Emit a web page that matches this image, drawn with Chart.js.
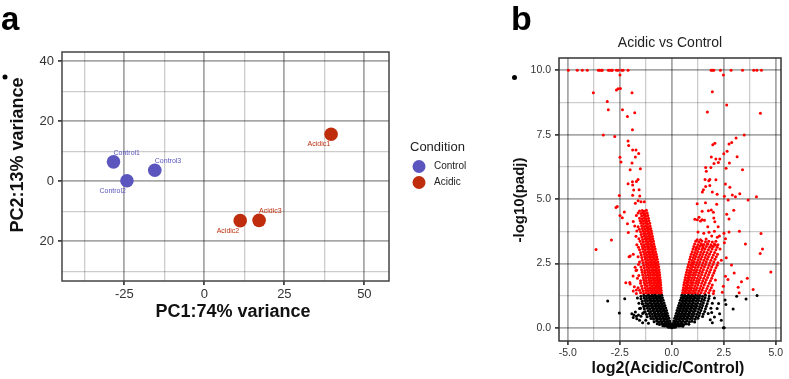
<!DOCTYPE html>
<html>
<head>
<meta charset="utf-8">
<title>PCA and volcano plot</title>
<script src="https://cdn.jsdelivr.net/npm/chart.js"></script>
<style>
  body { margin: 0; background: #fff; }
  #wrap { position: relative; width: 789px; height: 379px; }
  #pca { position: absolute; left: 0; top: 0; }
  #volcano { position: absolute; left: 480px; top: 0; }
</style>
</head>
<body>
<div id="wrap">
  <canvas id="pca" width="480" height="379"></canvas>
  <canvas id="volcano" width="309" height="379"></canvas>
</div>
<script>
// ---- panel a: PCA ----
var sampleNames = ['Control1', 'Control2', 'Control3', 'Acidic1', 'Acidic2', 'Acidic3'];
var sampleCondition = ['Control', 'Control', 'Control', 'Acidic', 'Acidic', 'Acidic'];
var pc1 = [-28.4, -24.2, -15.5, 39.6, 11.2, 17.1];
var pc2 = [6.5, 0.2, 3.7, 15.7, -13.1, -13.0];
var conditions = ['Control', 'Acidic'];

var pcaXGrid = [-37.5, -25, -12.5, 0, 12.5, 25, 37.5, 50];
var pcaXMajor = [-25, 0, 25, 50];
var pcaXLabels = ['-25', '0', '25', '50'];
var pcaYGrid = [-30, -20, -10, 0, 10, 20, 30, 40];
var pcaYMajor = [-20, 0, 20, 40];
var pcaYLabels = ['20', '0', '20', '40'];

// ---- panel b: volcano ----
var volX = [-5, -3.75, -2.5, -1.25, 0, 1.25, 2.5, 3.75, 5];
var volXMajor = [-5, -2.5, 0, 2.5, 5];
var volXLabels = ['-5.0', '-2.5', '0.0', '2.5', '5.0'];
var volY = [0, 1.25, 2.5, 3.75, 5, 6.25, 7.5, 8.75, 10];
var volYMajor = [0, 2.5, 5, 7.5, 10];
var volYLabels = ['0.0', '2.5', '5.0', '7.5', '10.0'];

// significant, lower in Acidic
var downSig = [
  [-4.97,10],[-4.54,10],[-4.30,10],[-4.06,10],[-3.53,10],[-3.46,10],[-3.38,10],[-3.34,10],[-3.05,10],[-2.98,10],[-2.90,10],[-2.86,10],[-2.66,10],[-2.58,10],[-2.40,10],[-2.34,10],[-2.10,10],
  [-2.49,9.82],[-2.66,9.24],[-2.58,9.29],[-2.47,9.30],[-3.77,9.13],[-1.91,9.13],[-3.10,8.79],[-3.05,8.47],[-2.37,8.47],[-1.78,8.35],[-2.13,8.21],[-1.89,7.69],[-3.29,7.49],[-2.74,7.43],[-2.10,7.26],[-2.07,7.08],[-1.88,6.91],[-1.72,6.91],[-1.59,6.77],[-1.75,6.64],[-2.49,6.63],
  [-2.44,6.44],[-1.91,6.40],[-1.51,6.18],[-2.00,6.14],[-1.62,5.76],[-1.70,5.68],[-1.89,5.67],[-2.10,5.60],[-1.88,5.55],[-1.57,5.36],[-1.83,5.35],[-1.54,5.12],[-1.88,5.15],[-2.52,5.14],[-1.62,4.94],[-1.48,4.90],[-1.75,4.84],[-1.32,4.90],[-2.68,4.67],[-2.62,4.71],[-2.28,4.50],[-2.49,4.36],[-2.38,4.28],[-2.13,4.04],[-2.09,3.70],[-2.90,3.41],[-3.64,3.04],
  [-2.21,1.75],[-2.00,2.79],[-2.05,2.76],[-1.76,2.35],[-1.68,2.25],[-1.86,2.01],[-1.80,1.60],[-1.70,1.47],[-2.00,1.70],
  [-1.22,4.57],[-1.32,4.53],[-1.42,4.56],[-1.55,4.54],
  [-1.18,4.46],[-1.28,4.43],[-1.38,4.47],[-1.48,4.44],[-1.62,4.46],
  [-1.15,4.36],[-1.25,4.33],[-1.35,4.37],[-1.45,4.34],[-1.70,4.36],
  [-1.12,4.26],[-1.22,4.23],[-1.32,4.27],[-1.42,4.24],[-1.55,4.26],
  [-1.10,4.16],[-1.20,4.13],[-1.30,4.17],[-1.40,4.14],[-1.52,4.16],[-1.85,4.13],
  [-1.06,4.06],[-1.16,4.03],[-1.26,4.07],[-1.36,4.04],[-1.48,4.06],
  [-1.04,3.96],[-1.13,3.93],[-1.23,3.97],[-1.33,3.94],[-1.45,3.96],[-1.62,3.93],[-1.78,3.96],
  [-1.01,3.86],[-1.10,3.83],[-1.20,3.87],[-1.30,3.84],[-1.42,3.86],[-1.56,3.83],
  [-0.98,3.76],[-1.07,3.73],[-1.17,3.77],[-1.27,3.74],[-1.38,3.76],[-1.50,3.73],[-1.68,3.76],
  [-0.96,3.66],[-1.05,3.63],[-1.14,3.67],[-1.24,3.64],[-1.35,3.66],[-1.47,3.63],
  [-0.93,3.56],[-1.02,3.53],[-1.11,3.57],[-1.21,3.54],[-1.32,3.56],[-1.44,3.53],[-1.72,3.56],
  [-0.91,3.46],[-1.00,3.43],[-1.09,3.47],[-1.18,3.44],[-1.28,3.46],[-1.40,3.43],[-1.58,3.46],
  [-0.88,3.36],[-0.97,3.33],[-1.06,3.37],[-1.15,3.34],[-1.25,3.36],[-1.37,3.33],[-1.52,3.36],
  [-0.86,3.26],[-0.95,3.23],[-1.04,3.27],[-1.13,3.24],[-1.22,3.26],[-1.33,3.23],[-1.46,3.26],[-1.68,3.23],
  [-0.83,3.16],[-0.92,3.13],[-1.01,3.17],[-1.10,3.14],[-1.19,3.16],[-1.30,3.13],[-1.42,3.16],[-1.60,3.13],
  [-0.80,3.06],[-0.89,3.03],[-0.98,3.07],[-1.07,3.04],[-1.16,3.06],[-1.27,3.03],[-1.40,3.06],[-1.55,3.03],
  [-0.78,2.96],[-0.87,2.93],[-0.96,2.97],[-1.05,2.94],[-1.14,2.96],[-1.24,2.93],[-1.36,2.96],[-1.50,2.93],
  [-0.75,2.86],[-0.84,2.83],[-0.93,2.87],[-1.02,2.84],[-1.11,2.86],[-1.21,2.83],[-1.33,2.86],[-1.47,2.83],[-1.85,2.86],
  [-0.72,2.76],[-0.81,2.73],[-0.90,2.77],[-0.99,2.74],[-1.08,2.76],[-1.18,2.73],[-1.30,2.76],[-1.44,2.73],[-1.62,2.76],
  [-0.70,2.66],[-0.79,2.63],[-0.88,2.67],[-0.97,2.64],[-1.06,2.66],[-1.16,2.63],[-1.28,2.66],[-1.42,2.63],
  [-0.67,2.56],[-0.76,2.53],[-0.85,2.57],[-0.94,2.54],[-1.03,2.56],[-1.13,2.53],[-1.25,2.56],[-1.38,2.53],[-1.55,2.56],
  [-0.65,2.46],[-0.74,2.43],[-0.83,2.47],[-0.92,2.44],[-1.01,2.46],[-1.11,2.43],[-1.22,2.46],[-1.35,2.43],[-1.60,2.46],
  [-0.63,2.36],[-0.72,2.33],[-0.81,2.37],[-0.90,2.34],[-0.99,2.36],[-1.09,2.33],[-1.20,2.36],[-1.32,2.33],[-1.48,2.36],
  [-0.61,2.26],[-0.70,2.23],[-0.79,2.27],[-0.88,2.24],[-0.97,2.26],[-1.07,2.23],[-1.18,2.26],[-1.30,2.23],[-1.45,2.26],[-1.72,2.23],
  [-0.60,2.16],[-0.68,2.13],[-0.77,2.17],[-0.86,2.14],[-0.95,2.16],[-1.05,2.13],[-1.16,2.16],[-1.28,2.13],[-1.42,2.16],
  [-0.58,2.06],[-0.66,2.03],[-0.75,2.07],[-0.84,2.04],[-0.93,2.06],[-1.03,2.03],[-1.14,2.06],[-1.26,2.03],[-1.40,2.06],[-1.58,2.03],
  [-0.57,1.96],[-0.65,1.93],[-0.73,1.97],[-0.82,1.94],[-0.91,1.96],[-1.01,1.93],[-1.12,1.96],[-1.24,1.93],[-1.37,1.96],[-1.65,1.93],
  [-0.55,1.86],[-0.63,1.83],[-0.71,1.87],[-0.80,1.84],[-0.89,1.86],[-0.99,1.83],[-1.10,1.86],[-1.22,1.83],[-1.35,1.86],[-1.50,1.83],
  [-0.54,1.76],[-0.62,1.73],[-0.70,1.77],[-0.78,1.74],[-0.87,1.76],[-0.97,1.73],[-1.08,1.76],[-1.20,1.73],[-1.33,1.76],[-1.50,1.73],[-2.02,1.76],
  [-0.53,1.66],[-0.61,1.63],[-0.69,1.67],[-0.77,1.64],[-0.86,1.66],[-0.95,1.63],[-1.06,1.66],[-1.18,1.63],[-1.30,1.66],[-1.45,1.63],
  [-0.52,1.56],[-0.60,1.53],[-0.68,1.57],[-0.76,1.54],[-0.85,1.56],[-0.94,1.53],[-1.04,1.56],[-1.15,1.53],[-1.28,1.56],[-1.42,1.53],[-1.62,1.56],
  [-0.51,1.46],[-0.59,1.43],[-0.67,1.47],[-0.75,1.44],[-0.84,1.46],[-0.93,1.43],[-1.03,1.46],[-1.13,1.43],[-1.25,1.46],[-1.38,1.43],[-1.55,1.46],[-1.85,1.43],
  [-0.50,1.36],[-0.58,1.33],[-0.66,1.37],[-0.74,1.34],[-0.83,1.36],[-0.92,1.33],[-1.02,1.36],[-1.12,1.33],[-1.23,1.36],[-1.35,1.33],[-1.50,1.36],[-1.70,1.33]
];

// significant, higher in Acidic
var upSig = [
  [1.89,10],[1.95,10],[2.02,10],[2.34,10],[2.85,10],[3.40,10],[3.94,10],[4.09,10],[4.31,10],
  [2.48,9.82],[1.95,9.17],[2.64,8.65],[1.71,8.38],[4.26,8.33],[3.48,7.49],[3.09,7.37],[2.88,7.20],[2.75,7.14],[2.07,7.17],[1.97,7.11],[2.66,6.86],[2.50,6.76],[1.90,6.64],[3.14,6.65],
  [2.12,6.56],[2.31,6.56],[2.03,6.38],[2.24,6.42],[2.77,6.40],[1.63,6.23],[1.88,6.23],[1.66,6.08],[2.61,6.20],[3.40,6.14],[1.60,5.76],[1.78,5.71],[1.83,5.76],[2.12,5.75],[1.63,5.49],[1.83,5.53],[2.58,5.59],[2.79,5.46],[1.52,5.36],[1.47,5.28],[1.95,5.28],[2.18,5.19],[2.91,5.16],[3.27,5.21],[3.06,5.09],[2.53,5.11],[2.71,4.97],[3.67,4.97],[4.07,5.09],
  [1.22,4.82],[1.62,4.86],[2.16,4.80],[1.90,4.58],[2.00,4.49],[1.76,4.55],[2.64,4.41],[2.98,4.57],[1.46,4.53],[1.31,4.30],[1.46,4.20],[1.38,4.15],[1.23,4.20],[1.57,4.18],[1.11,4.22],[2.02,4.27],[2.07,4.12],[2.23,3.93],[2.75,4.23],[1.73,3.93],
  [1.26,3.72],[1.54,3.67],[1.79,3.71],[2.05,3.75],[2.51,3.67],[2.75,3.72],[3.25,3.75],[4.29,3.66],[1.92,3.57],[2.19,3.52],[2.29,3.57],[2.58,3.46],[1.65,3.45],[1.38,3.42],[1.22,3.42],[1.46,3.23],[1.73,3.26],[1.94,3.17],[2.10,3.22],[1.50,3.11],[1.17,3.10],[3.54,3.26],[4.36,3.06],
  [2.53,3.31],[4.25,2.89],[4.76,2.17],[2.87,2.44],[3.00,2.13],[2.58,2.00],[3.63,1.93],[3.35,1.79],[3.91,1.49],[3.19,1.58],[3.24,1.36],[2.43,1.38],[2.62,2.72],[2.48,1.62],[2.70,1.88],
  [1.15,3.36],[1.30,3.33],[1.45,3.37],[1.62,3.34],[1.78,3.36],[1.95,3.33],[2.12,3.36],
  [1.10,3.26],[1.25,3.23],[1.40,3.27],[1.55,3.24],[1.72,3.26],[1.88,3.23],[2.05,3.26],[2.22,3.23],
  [1.06,3.16],[1.20,3.13],[1.35,3.17],[1.50,3.14],[1.66,3.16],[1.82,3.13],[2.00,3.16],[2.18,3.13],
  [1.02,3.06],[1.15,3.03],[1.30,3.07],[1.45,3.04],[1.60,3.06],[1.76,3.03],[1.94,3.06],[2.12,3.03],[2.32,3.06],
  [0.98,2.96],[1.11,2.93],[1.25,2.97],[1.40,2.94],[1.55,2.96],[1.70,2.93],[1.88,2.96],[2.06,2.93],
  [0.94,2.86],[1.07,2.83],[1.20,2.87],[1.35,2.84],[1.50,2.86],[1.65,2.83],[1.82,2.86],[2.00,2.83],[2.20,2.86],
  [0.90,2.76],[1.03,2.73],[1.16,2.77],[1.30,2.74],[1.45,2.76],[1.60,2.73],[1.76,2.76],[1.94,2.73],[2.14,2.76],
  [0.87,2.66],[0.99,2.63],[1.12,2.67],[1.26,2.64],[1.40,2.66],[1.55,2.63],[1.71,2.66],[1.88,2.63],[2.08,2.66],[2.38,2.63],
  [0.84,2.56],[0.96,2.53],[1.08,2.57],[1.21,2.54],[1.35,2.56],[1.50,2.53],[1.66,2.56],[1.83,2.53],[2.02,2.56],[2.22,2.53],
  [0.80,2.46],[0.92,2.43],[1.04,2.47],[1.17,2.44],[1.31,2.46],[1.46,2.43],[1.62,2.46],[1.79,2.43],[1.98,2.46],[2.18,2.43],
  [0.77,2.36],[0.89,2.33],[1.01,2.37],[1.13,2.34],[1.27,2.36],[1.41,2.33],[1.57,2.36],[1.74,2.33],[1.92,2.36],[2.12,2.33],
  [0.74,2.26],[0.85,2.23],[0.97,2.27],[1.09,2.24],[1.22,2.26],[1.36,2.23],[1.52,2.26],[1.69,2.23],[1.87,2.26],[2.06,2.23],
  [0.71,2.16],[0.82,2.13],[0.93,2.17],[1.05,2.14],[1.18,2.16],[1.32,2.13],[1.47,2.16],[1.64,2.13],[1.82,2.16],[2.02,2.13],
  [0.68,2.06],[0.79,2.03],[0.90,2.07],[1.01,2.04],[1.14,2.06],[1.28,2.03],[1.43,2.06],[1.59,2.03],[1.77,2.06],[1.96,2.03],
  [0.65,1.96],[0.76,1.93],[0.86,1.97],[0.97,1.94],[1.10,1.96],[1.23,1.93],[1.38,1.96],[1.54,1.93],[1.72,1.96],[1.92,1.93],
  [0.63,1.86],[0.73,1.83],[0.83,1.87],[0.94,1.84],[1.06,1.86],[1.19,1.83],[1.33,1.86],[1.49,1.83],[1.66,1.86],[1.86,1.83],[2.10,1.86],
  [0.60,1.76],[0.70,1.73],[0.80,1.77],[0.91,1.74],[1.02,1.76],[1.15,1.73],[1.29,1.76],[1.44,1.73],[1.61,1.76],[1.80,1.73],
  [0.58,1.66],[0.68,1.63],[0.77,1.67],[0.88,1.64],[0.99,1.66],[1.11,1.63],[1.25,1.66],[1.40,1.63],[1.56,1.66],[1.74,1.63],[1.95,1.66],
  [0.56,1.56],[0.65,1.53],[0.75,1.57],[0.85,1.54],[0.96,1.56],[1.08,1.53],[1.21,1.56],[1.35,1.53],[1.51,1.56],[1.69,1.53],[1.90,1.56],
  [0.54,1.46],[0.63,1.43],[0.72,1.47],[0.82,1.44],[0.93,1.46],[1.04,1.43],[1.17,1.46],[1.31,1.43],[1.46,1.46],[1.63,1.43],[1.84,1.46],[2.02,1.43],
  [0.52,1.36],[0.61,1.33],[0.70,1.37],[0.79,1.34],[0.90,1.36],[1.01,1.33],[1.13,1.36],[1.26,1.33],[1.41,1.36],[1.58,1.33],[1.78,1.36],[2.00,1.33]
];

// not significant
var notSig = [
  [-0.48,1.27],[-0.56,1.24],[-0.64,1.26],[-0.72,1.23],[-0.80,1.27],[-0.88,1.24],[-0.96,1.26],[-1.04,1.23],[-1.12,1.27],[-1.22,1.24],[-1.34,1.26],[-1.48,1.23],
  [-0.45,1.17],[-0.53,1.14],[-0.61,1.16],[-0.69,1.13],[-0.77,1.17],[-0.85,1.14],[-0.93,1.16],[-1.02,1.13],[-1.11,1.17],[-1.21,1.14],[-1.33,1.16],[-1.48,1.13],[-1.65,1.16],
  [-0.41,1.07],[-0.49,1.04],[-0.57,1.06],[-0.65,1.03],[-0.73,1.07],[-0.81,1.04],[-0.89,1.06],[-0.98,1.03],[-1.07,1.07],[-1.17,1.04],[-1.29,1.06],[-1.42,1.03],
  [-0.37,0.97],[-0.45,0.94],[-0.53,0.96],[-0.61,0.93],[-0.69,0.97],[-0.77,0.94],[-0.85,0.96],[-0.94,0.93],[-1.03,0.97],[-1.13,0.94],[-1.25,0.96],[-1.40,0.93],[-1.58,0.96],
  [-0.33,0.87],[-0.41,0.84],[-0.49,0.86],[-0.57,0.83],[-0.65,0.87],[-0.73,0.84],[-0.81,0.86],[-0.90,0.83],[-0.99,0.87],[-1.09,0.84],[-1.21,0.86],[-1.35,0.83],
  [-0.29,0.77],[-0.37,0.74],[-0.45,0.76],[-0.53,0.73],[-0.61,0.77],[-0.69,0.74],[-0.77,0.76],[-0.86,0.73],[-0.95,0.77],[-1.05,0.74],[-1.17,0.76],[-1.32,0.73],[-1.50,0.76],
  [-0.25,0.67],[-0.33,0.64],[-0.41,0.66],[-0.49,0.63],[-0.57,0.67],[-0.65,0.64],[-0.73,0.66],[-0.82,0.63],[-0.91,0.67],[-1.01,0.64],[-1.13,0.66],[-1.28,0.63],
  [-0.22,0.57],[-0.29,0.54],[-0.36,0.56],[-0.44,0.53],[-0.52,0.57],[-0.60,0.54],[-0.68,0.56],[-0.77,0.53],[-0.86,0.57],[-0.96,0.54],[-1.08,0.56],[-1.22,0.53],[-1.40,0.56],
  [-0.18,0.47],[-0.25,0.44],[-0.32,0.46],[-0.40,0.43],[-0.48,0.47],[-0.56,0.44],[-0.64,0.46],[-0.73,0.43],[-0.82,0.47],[-0.92,0.44],[-1.04,0.46],[-1.18,0.43],
  [-0.14,0.37],[-0.21,0.34],[-0.28,0.36],[-0.35,0.33],[-0.43,0.37],[-0.51,0.34],[-0.59,0.36],[-0.68,0.33],[-0.78,0.37],[-0.88,0.34],[-1.00,0.36],
  [-0.10,0.27],[-0.16,0.24],[-0.23,0.26],[-0.30,0.23],[-0.38,0.27],[-0.46,0.24],[-0.54,0.26],[-0.63,0.23],[-0.73,0.27],[-0.85,0.24],
  [-0.06,0.17],[-0.12,0.14],[-0.18,0.16],[-0.25,0.13],[-0.32,0.17],[-0.40,0.14],[-0.49,0.16],[-0.59,0.13],[-0.70,0.16],
  [-0.03,0.09],[-0.08,0.07],[-0.13,0.09],[-0.19,0.06],[-0.26,0.09],[-0.34,0.07],[-0.43,0.08],
  [-0.01,0.03],[-0.04,0.02],[-0.08,0.04],[-0.13,0.02],[-0.19,0.03],[0.00,0.00],
  [-3.08,1.04],[-2.26,1.13],[-2.52,0.58],[-1.92,0.55],[-1.85,0.40],[-1.75,0.62],[-1.68,0.35],[-1.60,0.50],[-1.55,0.30],[-1.48,0.45],[-1.40,0.20],[-1.35,0.60],[-1.30,0.85],[-1.42,0.95],[-1.55,0.75],[-1.82,0.50],[-1.70,0.45],[-1.25,0.30],[-1.12,0.18],
  [0.48,1.27],[0.56,1.24],[0.64,1.26],[0.72,1.23],[0.80,1.27],[0.88,1.24],[0.96,1.26],[1.05,1.23],[1.14,1.27],[1.24,1.24],[1.35,1.26],[1.48,1.23],[1.62,1.27],[1.80,1.24],
  [0.45,1.17],[0.53,1.14],[0.61,1.16],[0.69,1.13],[0.77,1.17],[0.85,1.14],[0.94,1.16],[1.03,1.13],[1.12,1.17],[1.22,1.14],[1.33,1.16],[1.46,1.13],[1.60,1.17],[1.78,1.14],[2.05,1.16],
  [0.41,1.07],[0.49,1.04],[0.57,1.06],[0.65,1.03],[0.73,1.07],[0.81,1.04],[0.90,1.06],[0.99,1.03],[1.08,1.07],[1.18,1.04],[1.29,1.06],[1.42,1.03],[1.56,1.07],[1.74,1.04],
  [0.37,0.97],[0.45,0.94],[0.53,0.96],[0.61,0.93],[0.69,0.97],[0.77,0.94],[0.86,0.96],[0.95,0.93],[1.04,0.97],[1.14,0.94],[1.25,0.96],[1.38,0.93],[1.52,0.97],[1.70,0.94],[1.95,0.96],
  [0.33,0.87],[0.41,0.84],[0.49,0.86],[0.57,0.83],[0.65,0.87],[0.73,0.84],[0.82,0.86],[0.91,0.83],[1.00,0.87],[1.10,0.84],[1.21,0.86],[1.34,0.83],[1.48,0.87],[1.66,0.84],
  [0.29,0.77],[0.37,0.74],[0.45,0.76],[0.53,0.73],[0.61,0.77],[0.69,0.74],[0.78,0.76],[0.87,0.73],[0.96,0.77],[1.06,0.74],[1.17,0.76],[1.30,0.73],[1.44,0.77],[1.62,0.74],[1.88,0.76],
  [0.25,0.67],[0.33,0.64],[0.41,0.66],[0.49,0.63],[0.57,0.67],[0.65,0.64],[0.74,0.66],[0.83,0.63],[0.92,0.67],[1.02,0.64],[1.13,0.66],[1.26,0.63],[1.40,0.67],[1.58,0.64],
  [0.22,0.57],[0.29,0.54],[0.36,0.56],[0.44,0.53],[0.52,0.57],[0.60,0.54],[0.69,0.56],[0.78,0.53],[0.87,0.57],[0.97,0.54],[1.08,0.56],[1.21,0.53],[1.35,0.57],[1.52,0.54],[1.75,0.56],
  [0.18,0.47],[0.25,0.44],[0.32,0.46],[0.40,0.43],[0.48,0.47],[0.56,0.44],[0.65,0.46],[0.74,0.43],[0.83,0.47],[0.93,0.44],[1.04,0.46],[1.17,0.43],[1.31,0.47],[1.48,0.44],
  [0.14,0.37],[0.21,0.34],[0.28,0.36],[0.35,0.33],[0.43,0.37],[0.51,0.34],[0.60,0.36],[0.69,0.33],[0.78,0.37],[0.88,0.34],[0.99,0.36],[1.12,0.33],[1.26,0.37],
  [0.10,0.27],[0.16,0.24],[0.23,0.26],[0.30,0.23],[0.38,0.27],[0.46,0.24],[0.55,0.26],[0.64,0.23],[0.74,0.27],[0.85,0.24],[0.97,0.26],[1.10,0.23],
  [0.06,0.17],[0.12,0.14],[0.18,0.16],[0.25,0.13],[0.32,0.17],[0.40,0.14],[0.49,0.16],[0.59,0.13],[0.70,0.16],[0.82,0.14],
  [0.03,0.09],[0.08,0.07],[0.13,0.09],[0.19,0.06],[0.26,0.09],[0.34,0.07],[0.43,0.08],[0.53,0.06],
  [0.01,0.03],[0.04,0.02],[0.08,0.04],[0.13,0.02],[0.19,0.03],
  [3.12,1.23],[3.57,1.12],[4.10,1.26],[2.95,0.73],[2.56,1.08],[2.60,0.91],[2.48,0.00],[2.52,0.00],[2.30,0.55],[2.18,0.75],[2.38,0.30],[1.95,0.20],[2.05,0.42],[1.85,0.32],[2.25,0.95],[1.92,0.60]
];

// ---- styles ----
var FONT = '"Liberation Sans", Arial, sans-serif';
Chart.defaults.font.family = FONT;
var condColor = { Control: '#5a56be', Acidic: '#bf2d0c' };
// label placement for sample names: 'ne' = up-right, 'sw' = down-left
var labelPlace = ['ne', 'sw', 'ne', 'sw', 'sw', 'ne'];
var majorGrid = 'rgba(0,0,0,0.34)';
var minorGrid = 'rgba(0,0,0,0.20)';

function pairs(arr) {
  return arr.map(function (p) { return { x: p[0], y: p[1] }; });
}

function axis(grid, major, labels, min, max, fitSize, isX, fontSize) {
  return {
    type: 'linear',
    min: min,
    max: max,
    afterFit: function (s) { if (isX) s.height = fitSize; else s.width = fitSize; },
    afterBuildTicks: function (s) { s.ticks = grid.map(function (v) { return { value: v }; }); },
    ticks: {
      autoSkip: false,
      maxRotation: 0,
      padding: isX ? 2 : 4,
      color: '#333',
      font: { size: fontSize },
      callback: function (v) {
        var i = major.indexOf(v);
        return i < 0 ? '' : labels[i];
      }
    },
    grid: {
      tickLength: 4,
      color: function (c) { return c.tick && major.indexOf(c.tick.value) >= 0 ? majorGrid : minorGrid; },
      lineWidth: function (c) { return c.tick && major.indexOf(c.tick.value) >= 0 ? 1.8 : 1.3; },
      tickColor: function (c) { return c.tick && major.indexOf(c.tick.value) >= 0 ? '#444' : 'rgba(0,0,0,0)'; }
    },
    border: { display: false }
  };
}

function dot(ctx, x, y, r, col) {
  ctx.beginPath();
  ctx.arc(x, y, r, 0, Math.PI * 2);
  ctx.fillStyle = col;
  ctx.fill();
}

var pcaDecor = {
  id: 'pcaDecor',
  afterDraw: function (chart) {
    var ctx = chart.ctx, a = chart.chartArea;
    ctx.save();
    ctx.strokeStyle = '#444';
    ctx.lineWidth = 1.5;
    ctx.strokeRect(a.left, a.top, a.right - a.left, a.bottom - a.top);

    // sample labels
    ctx.font = '7px ' + FONT;
    ctx.textBaseline = 'middle';
    chart.data.datasets.forEach(function (ds, di) {
      var meta = chart.getDatasetMeta(di);
      ds.data.forEach(function (pt, j) {
        var el = meta.data[j];
        var k = sampleNames.indexOf(pt.name);
        ctx.fillStyle = condColor[ds.label];
        if (labelPlace[k] === 'ne') {
          ctx.textAlign = 'left';
          ctx.fillText(pt.name, el.x, el.y - 9);
        } else {
          ctx.textAlign = 'right';
          ctx.fillText(pt.name, el.x - 1, el.y + 10);
        }
      });
    });

    // axis titles
    ctx.fillStyle = '#111';
    ctx.font = 'bold 18px ' + FONT;
    ctx.textAlign = 'center';
    ctx.fillText('PC1:74% variance', 233, 312);
    ctx.save();
    ctx.translate(18, 155);
    ctx.rotate(-Math.PI / 2);
    ctx.fillText('PC2:13% variance', 0, 0);
    ctx.restore();

    // legend
    ctx.textAlign = 'left';
    ctx.fillStyle = '#222';
    ctx.font = '13px ' + FONT;
    ctx.fillText('Condition', 410, 147);
    ctx.font = '10px ' + FONT;
    conditions.forEach(function (c, i) {
      var y = 166.5 + i * 16;
      dot(ctx, 419, y, 6.5, condColor[c]);
      ctx.fillStyle = '#222';
      ctx.fillText(c, 434, y);
    });

    // panel letter
    ctx.font = 'bold 33px ' + FONT;
    ctx.textBaseline = 'alphabetic';
    ctx.fillStyle = '#000';
    ctx.fillText('a', 1, 30);
    dot(ctx, 5, 77, 2.5, '#000');
    ctx.restore();
  }
};

new Chart(document.getElementById('pca'), {
  type: 'scatter',
  data: {
    datasets: conditions.map(function (c) {
      var pts = [];
      sampleNames.forEach(function (n, i) {
        if (sampleCondition[i] === c) pts.push({ x: pc1[i], y: pc2[i], name: n });
      });
      return {
        label: c,
        data: pts,
        backgroundColor: condColor[c],
        borderWidth: 0,
        pointRadius: 6.8,
        pointHoverRadius: 6.8
      };
    })
  },
  options: {
    responsive: false,
    animation: false,
    events: [],
    layout: { padding: { left: 0, top: 52, right: 91, bottom: 58 } },
    plugins: { legend: { display: false }, tooltip: { enabled: false } },
    scales: {
      x: axis(pcaXGrid, pcaXMajor, pcaXLabels, -44.5, 57.7, 40, true, 13),
      y: axis(pcaYGrid, pcaYMajor, pcaYLabels, -33.2, 43.1, 62, false, 13)
    }
  },
  plugins: [pcaDecor]
});

var volDecor = {
  id: 'volDecor',
  afterDraw: function (chart) {
    var ctx = chart.ctx, a = chart.chartArea;
    ctx.save();
    ctx.strokeStyle = '#333';
    ctx.lineWidth = 1.5;
    ctx.strokeRect(a.left, a.top, a.right - a.left, a.bottom - a.top);

    ctx.textAlign = 'center';
    ctx.textBaseline = 'middle';
    ctx.fillStyle = '#222';
    ctx.font = '14px ' + FONT;
    ctx.fillText('Acidic vs Control', 190, 43);

    ctx.fillStyle = '#111';
    ctx.font = 'bold 16px ' + FONT;
    ctx.fillText('log2(Acidic/Control)', 188, 369);
    ctx.save();
    ctx.translate(40, 200);
    ctx.rotate(-Math.PI / 2);
    ctx.font = 'bold 15px ' + FONT;
    ctx.fillText('-log10(padj)', 0, 0);
    ctx.restore();

    ctx.textAlign = 'left';
    ctx.textBaseline = 'alphabetic';
    ctx.fillStyle = '#000';
    ctx.font = 'bold 34px ' + FONT;
    ctx.fillText('b', 31, 30);
    dot(ctx, 34.5, 77.5, 2.5, '#000');
    ctx.restore();
  }
};

new Chart(document.getElementById('volcano'), {
  type: 'scatter',
  data: {
    datasets: [
      { label: 'ns', data: pairs(notSig), backgroundColor: '#000', borderWidth: 0, pointRadius: 1.5 },
      { label: 'down', data: pairs(downSig), backgroundColor: '#ff0000', borderWidth: 0, pointRadius: 1.5 },
      { label: 'up', data: pairs(upSig), backgroundColor: '#ff0000', borderWidth: 0, pointRadius: 1.5 }
    ]
  },
  options: {
    responsive: false,
    animation: false,
    events: [],
    layout: { padding: { left: 0, top: 58, right: 8, bottom: 0 } },
    plugins: { legend: { display: false }, tooltip: { enabled: false } },
    scales: {
      x: axis(volX, volXMajor, volXLabels, -5.42, 5.25, 38, true, 10.5),
      y: axis(volY, volYMajor, volYLabels, -0.51, 10.48, 79, false, 10.5)
    }
  },
  plugins: [volDecor]
});
</script>
</body>
</html>
